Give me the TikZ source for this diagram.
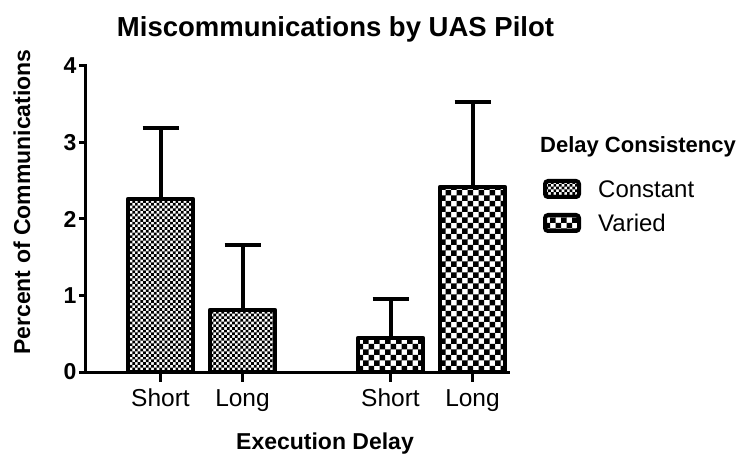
\documentclass[tikz,border=0pt]{standalone}
\usepackage{fontspec}
\setmainfont{Liberation Sans}
\usetikzlibrary{patterns}
\pgfdeclarepatternformonly{finecheck}{\pgfpoint{-0.1pt}{-0.1pt}}{\pgfpoint{5.4pt}{5.4pt}}{\pgfpoint{5.4pt}{5.4pt}}{%
  \pgfpathrectangle{\pgfpointorigin}{\pgfpoint{2.7pt}{2.7pt}}%
  \pgfpathrectangle{\pgfpoint{2.7pt}{2.7pt}}{\pgfpoint{2.7pt}{2.7pt}}%
  \pgfusepath{fill}}
\pgfdeclarepatternformonly{coarsecheck}{\pgfpoint{-0.1pt}{-0.1pt}}{\pgfpoint{11pt}{11pt}}{\pgfpoint{11pt}{11pt}}{%
  \pgfpathrectangle{\pgfpointorigin}{\pgfpoint{5.5pt}{5.5pt}}%
  \pgfpathrectangle{\pgfpoint{5.5pt}{5.5pt}}{\pgfpoint{5.5pt}{5.5pt}}%
  \pgfusepath{fill}}
\begin{document}
\begin{tikzpicture}[x=1pt,y=-1pt,
  axisline/.style={line width=3pt},
  barbox/.style={draw, line width=4.5pt, line join=round},
  errline/.style={line width=4pt},
  swatch/.style={draw, line width=4pt, rounded corners=3pt},
  ticklab/.style={font=\fontsize{23}{27}\selectfont\bfseries, anchor=east, inner sep=0pt},
  catlab/.style={font=\fontsize{24.5}{28}\selectfont, anchor=base, inner sep=0pt},
  axtitle/.style={font=\fontsize{23}{27}\selectfont\bfseries, inner sep=0pt},
  legtxt/.style={font=\fontsize{24}{28}\selectfont, anchor=base west, inner sep=0pt}]
\useasboundingbox (0,0) rectangle (744,454);

% title
\node[font=\fontsize{27.5}{32}\selectfont\bfseries, anchor=base, inner sep=0pt] (title) at (335.5,37) {Miscommunications by UAS Pilot};

% bars
\draw[barbox, pattern=finecheck] (128,372) rectangle (193,199);
\draw[barbox, pattern=finecheck] (210,372) rectangle (275,310);
\draw[barbox, pattern=coarsecheck] (358,372) rectangle (423,338);
\draw[barbox, pattern=coarsecheck] (440,372) rectangle (505,187);

% error bars
\coordinate (b1) at (160.5,199); \coordinate (e1) at (160.5,128);
\coordinate (b2) at (242.5,310); \coordinate (e2) at (242.5,245);
\coordinate (b3) at (390.5,338); \coordinate (e3) at (390.5,299);
\coordinate (b4) at (472.5,187); \coordinate (e4) at (472.5,102);
\foreach \i in {1,2,3,4}{
  \draw[errline] (b\i) -- (e\i);
  \draw[errline] ([xshift=-18pt]e\i) -- ([xshift=18pt]e\i);
}

% axes
\coordinate (yaxtop) at (85,64.5);
\coordinate (origin) at (85,372);
\coordinate (xaxend) at (510,372);
\draw[axisline] (yaxtop) -- (origin) -- (xaxend);
\foreach \v/\y in {0/372,1/295.5,2/219,3/142.5,4/66}{
  \coordinate (yt\v) at (85,\y);
  \coordinate (ytl\v) at (78.5,\y);
  \draw[axisline] (yt\v) -- (ytl\v);
  \node[ticklab] (ylab\v) at (76.5,\y) {\v};
}
\foreach \n/\x/\t in {1/160.5/Short,2/242.5/Long,3/390.5/Short,4/472.5/Long}{
  \coordinate (xt\n) at (\x,372);
  \coordinate (xtb\n) at (\x,382);
  \draw[axisline] (xt\n) -- (xtb\n);
  \node[catlab] (xlab\n) at (\x,406) {\t};
}

% axis titles
\node[axtitle, rotate=90] (ytitle) at (22,202) {Percent of Communications};
\node[axtitle, anchor=base] (xtitle) at (325,449) {Execution Delay};

% legend
\node[font=\fontsize{22}{26}\selectfont\bfseries, anchor=base west, inner sep=0pt] (legtitle) at (540,153) {Delay Consistency};
\draw[swatch, pattern=finecheck] (545,181) rectangle (579,197);
\node[legtxt] (leg1) at (598,198) {Constant};
\draw[swatch, pattern=coarsecheck] (545,215) rectangle (579,231);
\node[legtxt] (leg2) at (598,232) {Varied};
\end{tikzpicture}
\end{document}
